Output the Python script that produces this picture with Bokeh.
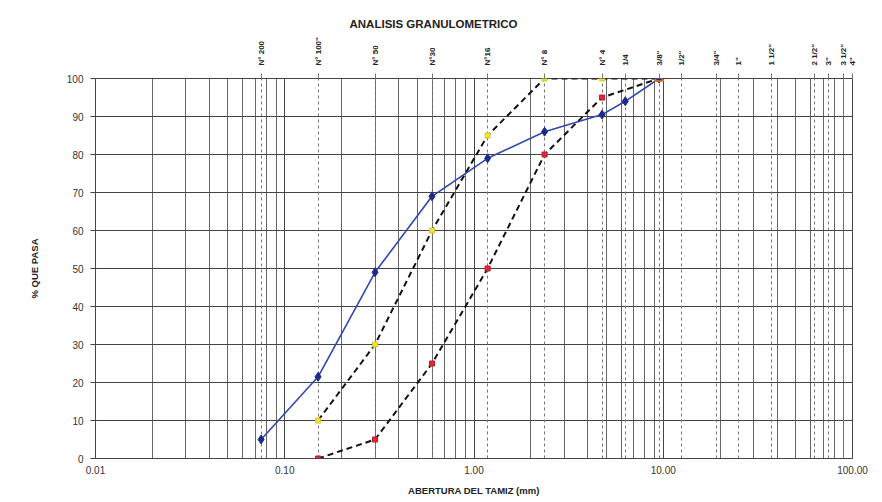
from bokeh.plotting import figure
from bokeh.models import (LogAxis, FixedTicker, Grid, Range1d, PrintfTickFormatter,
                          CustomJSTickFormatter)
from bokeh.embed import file_html
from bokeh.resources import INLINE

# ---- data ----
sieve_mm = [0.075, 0.15, 0.3, 0.6, 1.18, 2.36, 4.75, 6.3, 9.5, 12.5, 19.0, 25.0,
            37.5, 63.0, 75.0, 90.0, 100.0]
sieve_labels = ["N° 200", 'N° 100"', "N° 50", "N°30", "N°16", "N° 8", "N° 4", "1/4",
                '3/8"', '1/2"', '3/4"', '1"', '1 1/2"', '2 1/2"', '3"', '3 1/2"', '4"']

sample_x = [0.075, 0.15, 0.3, 0.6, 1.18, 2.36, 4.75, 6.3, 9.5]
sample_y = [5, 21.5, 49, 69, 79, 86, 90.5, 94, 100]

upper_x = [0.15, 0.3, 0.6, 1.18, 2.36, 4.75, 9.5]
upper_y = [10, 30, 60, 85, 100, 100, 100]

lower_x = [0.15, 0.3, 0.6, 1.18, 2.36, 4.75, 9.5]
lower_y = [0, 5, 25, 50, 80, 95, 100]

x_major = [0.01, 0.1, 1, 10, 100]
y_ticks = [0, 10, 20, 30, 40, 50, 60, 70, 80, 90, 100]

FONT = "Liberation Sans"

p = figure(width=882, height=502, x_axis_type="log",
           x_range=Range1d(0.01, 100), y_range=Range1d(0, 100),
           output_backend="svg", toolbar_location=None,
           min_border_left=95, min_border_right=30, min_border_top=78, min_border_bottom=44)
p.background_fill_color = "white"
p.border_fill_color = "white"
p.outline_line_color = "#444444"

p.title.text = "ANALISIS  GRANULOMETRICO"
p.title.align = "left"
p.title.offset = 254
p.title.text_font = FONT
p.title.text_font_size = "11.5px"
p.title.text_font_style = "bold"
p.title.text_color = "#222222"
p.title.standoff = 10

minor = [m * 10.0 ** e for e in range(-2, 2) for m in range(2, 10)]
xt = FixedTicker(ticks=x_major, minor_ticks=minor)
p.xaxis.ticker = xt
p.xgrid.ticker = xt
p.xaxis.formatter = PrintfTickFormatter(format="%.2f")
p.xgrid.grid_line_color = "#444444"
p.xgrid.minor_grid_line_color = "#666666"
p.xgrid.grid_line_width = 1
p.xaxis.minor_tick_line_color = None
p.xaxis.major_tick_out = 0
p.xaxis.major_tick_in = 0
p.xaxis.axis_line_color = "#444444"
p.xaxis.major_label_standoff = 3
p.xaxis.major_label_text_font = FONT
p.xaxis.major_label_text_font_size = "10px"
p.xaxis.major_label_text_color = "#333333"
p.xaxis.axis_label = "ABERTURA DEL TAMIZ (mm)"
p.xaxis.axis_label_text_font = FONT
p.xaxis.axis_label_text_font_size = "9.5px"
p.xaxis.axis_label_text_font_style = "bold"
p.xaxis.axis_label_text_color = "#222222"
p.xaxis.axis_label_standoff = 8

yt = FixedTicker(ticks=y_ticks)
p.yaxis.ticker = yt
p.ygrid.ticker = yt
p.ygrid.grid_line_color = "#444444"
p.ygrid.grid_line_width = 1
p.yaxis.minor_tick_line_color = None
p.yaxis.major_tick_out = 5
p.yaxis.major_tick_in = 0
p.yaxis.major_tick_line_color = "#444444"
p.yaxis.axis_line_color = "#444444"
p.yaxis.major_label_standoff = 7
p.yaxis.major_label_text_font = FONT
p.yaxis.major_label_text_font_size = "10px"
p.yaxis.major_label_text_color = "#333333"
p.yaxis.axis_label = "% QUE PASA"
p.yaxis.axis_label_text_font = FONT
p.yaxis.axis_label_text_font_size = "9.5px"
p.yaxis.axis_label_text_font_style = "bold"
p.yaxis.axis_label_text_color = "#222222"
p.yaxis.axis_label_standoff = 24

# sieve dashed lines
st = FixedTicker(ticks=sieve_mm)
sg = Grid(dimension=0, ticker=st, grid_line_color="#777777", grid_line_dash="3 3",
          grid_line_width=1)
p.add_layout(sg)

fmt = CustomJSTickFormatter(args=dict(t=sieve_mm, l=sieve_labels), code="""
let best = 0, d = 1e9;
for (let i = 0; i < t.length; i++) {
  const dd = Math.abs(Math.log(t[i]) - Math.log(tick));
  if (dd < d) { d = dd; best = i; }
}
return l[best];
""")
top = LogAxis(ticker=st, formatter=fmt, major_label_orientation="vertical",
              major_tick_out=5, major_tick_in=0, major_tick_line_color="#777777",
              minor_tick_line_color=None, axis_line_color=None,
              major_label_standoff=8, major_label_text_font=FONT,
              major_label_text_font_size="8px", major_label_text_font_style="bold",
              major_label_text_color="#222222")
p.add_layout(top, "above")

# limit curves
p.line(upper_x, upper_y, line_color="#111111", line_width=2, line_dash="6 4")
p.line(lower_x, lower_y, line_color="#111111", line_width=2, line_dash="6 4")
p.scatter(upper_x, upper_y, marker="square", size=5, fill_color="#f0e040",
          line_color="#d8c820")
p.scatter(lower_x, lower_y, marker="square", size=5, fill_color="#e02838",
          line_color="#c01828")

# sample curve
p.line(sample_x, sample_y, line_color="#3048b0", line_width=1.6)
p.scatter(sample_x, sample_y, marker="diamond", size=9, fill_color="#1c2a8c",
          line_color="#1c2a8c")
p.scatter(sample_x[-1:], sample_y[-1:], marker="triangle", size=9, fill_color=None,
          line_color="#e08020", line_width=1.5)

open("out.html", "w").write(file_html(p, INLINE))
